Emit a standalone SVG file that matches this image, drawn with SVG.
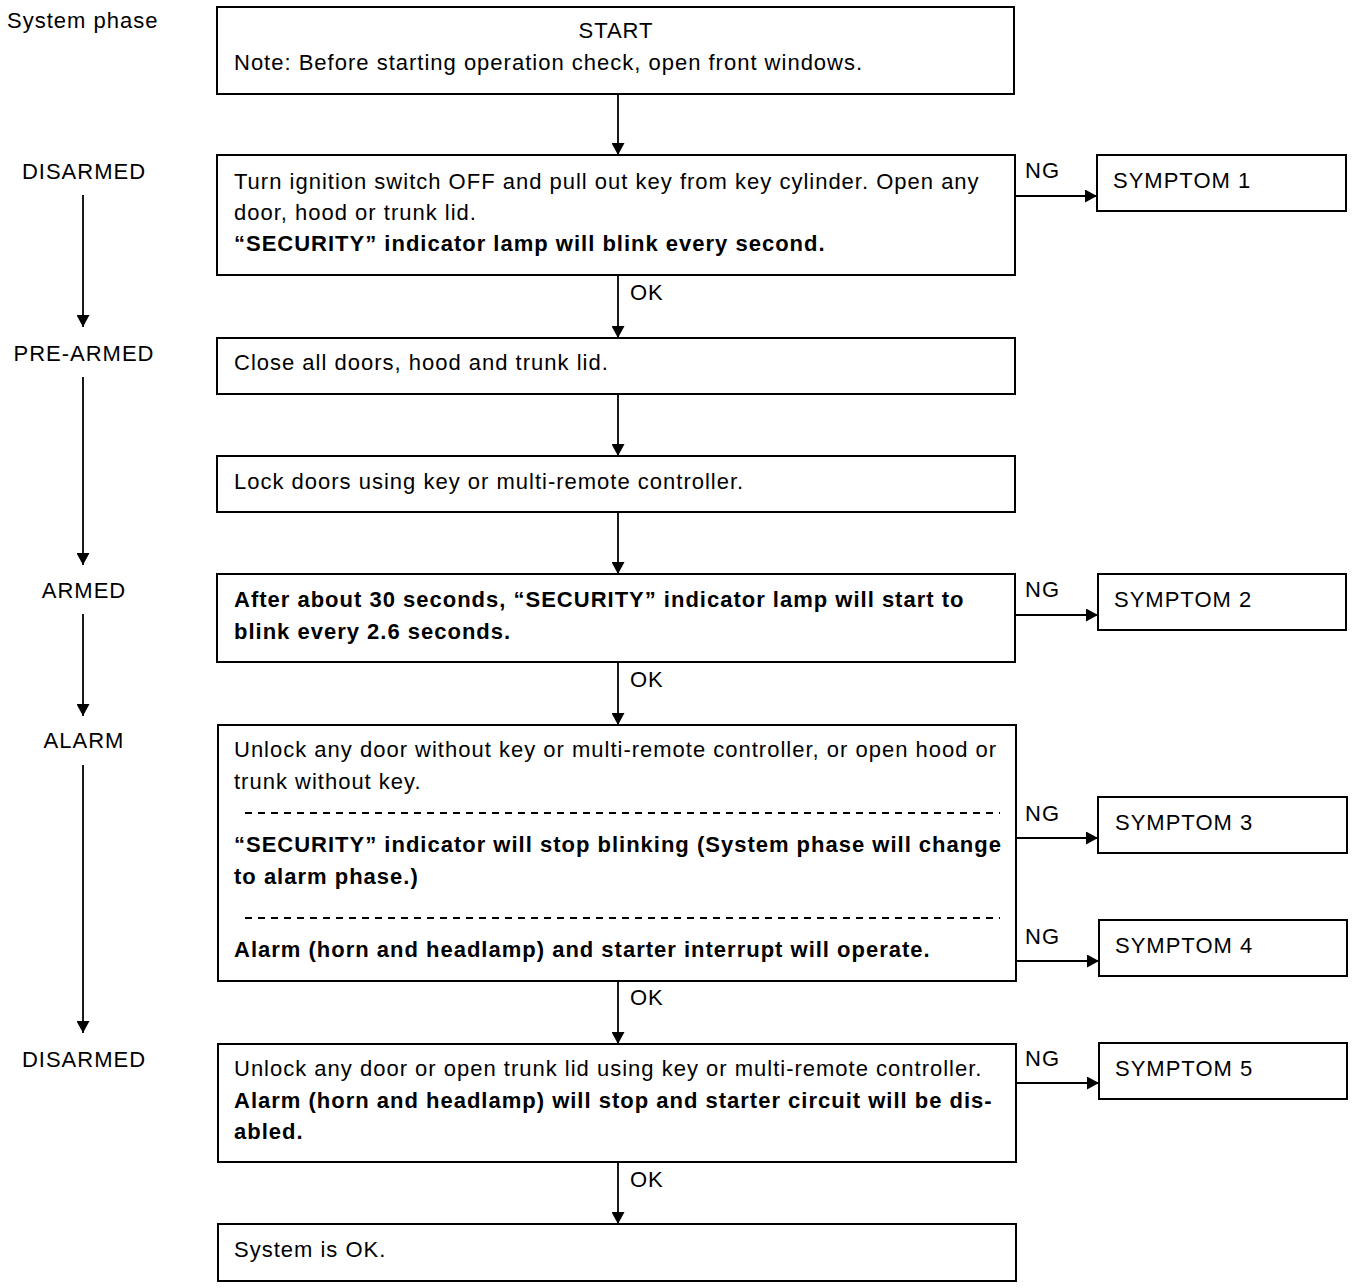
<svg xmlns="http://www.w3.org/2000/svg" width="1360" height="1288" viewBox="0 0 1360 1288">
<defs>
<marker id="ah" markerWidth="12" markerHeight="13" viewBox="0 0 12 13" refX="12" refY="6.5" orient="auto" markerUnits="userSpaceOnUse">
<path d="M0,0 L12,6.5 L0,13 Z" fill="#000"/>
</marker>
</defs>
<style>
text{font-family:"Liberation Sans",Arial,sans-serif;font-size:22px;letter-spacing:1px;fill:#000}
.b{font-weight:bold}
.box{fill:#fff;stroke:#000;stroke-width:2}
.ln{stroke:#000;stroke-width:1.8;fill:none}
.dash{stroke:#000;stroke-width:2;stroke-dasharray:7 6}
</style>
<rect width="1360" height="1288" fill="#fff"/>
<g id="phases">
<text x="7" y="28">System phase</text>
<text x="84" y="179" text-anchor="middle">DISARMED</text>
<text x="84" y="361" text-anchor="middle">PRE-ARMED</text>
<text x="84" y="598" text-anchor="middle">ARMED</text>
<text x="84" y="748" text-anchor="middle">ALARM</text>
<text x="84" y="1067" text-anchor="middle">DISARMED</text>
</g>
<g id="n-start"><rect class="box" x="217" y="7" width="797" height="87"/>
<text x="616" y="38" text-anchor="middle">START</text>
<text x="234" y="70">Note: Before starting operation check, open front windows.</text></g>
<g id="n-disarmed"><rect class="box" x="217" y="155" width="798" height="120"/>
<text x="234" y="189">Turn ignition switch OFF and pull out key from key cylinder. Open any</text>
<text x="234" y="220">door, hood or trunk lid.</text>
<text class="b" x="234" y="251">“SECURITY” indicator lamp will blink every second.</text></g>
<g id="n-s1"><rect class="box" x="1097" y="155" width="249" height="56"/><text x="1113" y="188">SYMPTOM 1</text></g>
<g id="n-close"><rect class="box" x="217" y="338" width="798" height="56"/>
<text x="234" y="370">Close all doors, hood and trunk lid.</text></g>
<g id="n-lock"><rect class="box" x="217" y="456" width="798" height="56"/>
<text x="234" y="489">Lock doors using key or multi-remote controller.</text></g>
<g id="n-armed"><rect class="box" x="217" y="574" width="798" height="88"/>
<text class="b" x="234" y="607">After about 30 seconds, “SECURITY” indicator lamp will start to</text>
<text class="b" x="234" y="639">blink every 2.6 seconds.</text></g>
<g id="n-s2"><rect class="box" x="1098" y="574" width="248" height="56"/><text x="1114" y="607">SYMPTOM 2</text></g>
<g id="n-alarm"><rect class="box" x="218" y="725" width="798" height="256"/>
<text x="234" y="757">Unlock any door without key or multi-remote controller, or open hood or</text>
<text x="234" y="789">trunk without key.</text>
<line class="dash" x1="245" y1="813" x2="1000" y2="813"/>
<text class="b" x="234" y="852">“SECURITY” indicator will stop blinking (System phase will change</text>
<text class="b" x="234" y="884">to alarm phase.)</text>
<line class="dash" x1="245" y1="918" x2="1000" y2="918"/>
<text class="b" x="234" y="957">Alarm (horn and headlamp) and starter interrupt will operate.</text></g>
<g id="n-s3"><rect class="box" x="1098" y="797" width="249" height="56"/><text x="1115" y="830">SYMPTOM 3</text></g>
<g id="n-s4"><rect class="box" x="1099" y="920" width="248" height="56"/><text x="1115" y="953">SYMPTOM 4</text></g>
<g id="n-disarm2"><rect class="box" x="218" y="1044" width="798" height="118"/>
<text x="234" y="1076">Unlock any door or open trunk lid using key or multi-remote controller.</text>
<text class="b" x="234" y="1108">Alarm (horn and headlamp) will stop and starter circuit will be dis-</text>
<text class="b" x="234" y="1139">abled.</text></g>
<g id="n-s5"><rect class="box" x="1099" y="1043" width="248" height="56"/><text x="1115" y="1076">SYMPTOM 5</text></g>
<g id="n-ok"><rect class="box" x="218" y="1224" width="798" height="57"/>
<text x="234" y="1257">System is OK.</text></g>
<g id="connectors">
<line class="ln" x1="83" y1="195" x2="83" y2="327" marker-end="url(#ah)"/>
<line class="ln" x1="83" y1="377" x2="83" y2="565" marker-end="url(#ah)"/>
<line class="ln" x1="83" y1="614" x2="83" y2="716" marker-end="url(#ah)"/>
<line class="ln" x1="83" y1="765" x2="83" y2="1033" marker-end="url(#ah)"/>
<line class="ln" x1="618" y1="94" x2="618" y2="155" marker-end="url(#ah)"/>
<line class="ln" x1="618" y1="275" x2="618" y2="338" marker-end="url(#ah)"/>
<line class="ln" x1="618" y1="394" x2="618" y2="456" marker-end="url(#ah)"/>
<line class="ln" x1="618" y1="512" x2="618" y2="574" marker-end="url(#ah)"/>
<line class="ln" x1="618" y1="662" x2="618" y2="725" marker-end="url(#ah)"/>
<line class="ln" x1="618" y1="981" x2="618" y2="1044" marker-end="url(#ah)"/>
<line class="ln" x1="618" y1="1162" x2="618" y2="1224" marker-end="url(#ah)"/>
<line class="ln" x1="1015" y1="196" x2="1097" y2="196" marker-end="url(#ah)"/>
<line class="ln" x1="1015" y1="615" x2="1098" y2="615" marker-end="url(#ah)"/>
<line class="ln" x1="1016" y1="838" x2="1098" y2="838" marker-end="url(#ah)"/>
<line class="ln" x1="1016" y1="961" x2="1099" y2="961" marker-end="url(#ah)"/>
<line class="ln" x1="1016" y1="1083" x2="1099" y2="1083" marker-end="url(#ah)"/>
<text x="630" y="300">OK</text>
<text x="630" y="687">OK</text>
<text x="630" y="1005">OK</text>
<text x="630" y="1187">OK</text>
<text x="1025" y="178">NG</text>
<text x="1025" y="597">NG</text>
<text x="1025" y="821">NG</text>
<text x="1025" y="944">NG</text>
<text x="1025" y="1066">NG</text>
</g>
</svg>
